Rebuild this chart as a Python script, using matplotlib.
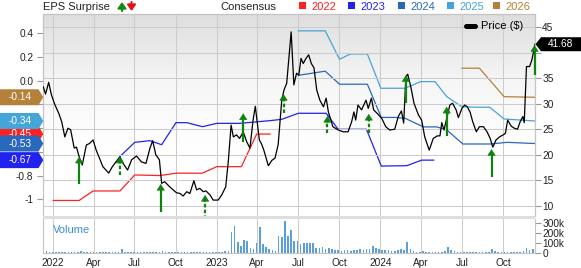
import matplotlib
matplotlib.use('Agg')
import matplotlib.pyplot as plt
import matplotlib.dates as mdates
import matplotlib.transforms as mtransforms
from matplotlib.patches import Polygon, Rectangle, FancyArrowPatch
from matplotlib.lines import Line2D
from matplotlib.colors import LinearSegmentedColormap
from matplotlib.ticker import FuncFormatter
import numpy as np
import pandas as pd

plt.rcParams['font.family'] = ['Liberation Sans', 'DejaVu Sans']

# price ($)
price_dates = [
    "2021-12-10", "2021-12-15", "2021-12-22", "2021-12-28",
    "2022-01-04", "2022-01-14", "2022-01-20", "2022-01-27", "2022-02-03", "2022-02-09", "2022-02-17", "2022-02-22",
    "2022-03-01", "2022-03-07", "2022-03-16", "2022-03-23", "2022-03-31", "2022-04-07", "2022-04-22",
    "2022-05-05", "2022-05-13", "2022-05-21", "2022-05-30", "2022-06-06", "2022-06-16", "2022-06-25",
    "2022-07-06", "2022-07-17", "2022-07-27", "2022-08-05", "2022-08-11", "2022-08-18", "2022-08-26", "2022-08-31",
    "2022-09-07", "2022-09-18", "2022-10-03", "2022-10-11", "2022-10-18", "2022-10-26",
    "2022-11-02", "2022-11-11", "2022-11-17", "2022-11-24", "2022-12-02", "2022-12-08", "2022-12-17", "2022-12-24",
    "2023-01-04", "2023-01-12", "2023-01-21", "2023-01-27", "2023-02-02", "2023-02-07", "2023-02-14", "2023-02-21",
    "2023-03-01", "2023-03-09", "2023-03-16", "2023-03-23", "2023-03-28", "2023-04-06", "2023-04-11", "2023-04-16",
    "2023-04-26", "2023-05-04", "2023-05-11", "2023-05-18", "2023-05-26", "2023-05-31",
    "2023-06-06", "2023-06-16", "2023-06-22", "2023-06-28",
    "2023-07-03", "2023-07-08", "2023-07-13", "2023-07-19", "2023-07-25", "2023-07-31",
    "2023-08-06", "2023-08-12", "2023-08-19", "2023-08-27", "2023-09-02", "2023-09-07", "2023-09-17", "2023-09-29",
    "2023-10-10", "2023-10-21", "2023-10-29", "2023-11-03", "2023-11-07", "2023-11-12", "2023-11-20", "2023-11-30",
    "2023-12-05", "2023-12-12", "2023-12-17", "2023-12-25",
    "2024-01-04", "2024-01-13", "2024-01-22", "2024-02-02", "2024-02-10", "2024-02-17", "2024-02-22", "2024-02-27",
    "2024-03-02", "2024-03-09", "2024-03-16", "2024-03-26", "2024-04-02", "2024-04-09", "2024-04-19", "2024-04-28",
    "2024-05-07", "2024-05-13", "2024-05-17", "2024-05-22", "2024-05-28", "2024-06-04", "2024-06-10", "2024-06-18",
    "2024-06-23", "2024-07-01", "2024-07-07", "2024-07-13", "2024-07-19", "2024-07-25",
    "2024-08-02", "2024-08-09", "2024-08-18", "2024-08-26", "2024-09-02", "2024-09-08", "2024-09-15", "2024-09-23",
    "2024-10-01", "2024-10-06", "2024-10-11", "2024-10-19", "2024-10-26",
    "2024-11-02", "2024-11-08", "2024-11-14", "2024-11-17", "2024-11-22", "2024-11-29", "2024-12-04", "2024-12-11",
]
price_vals = [
    33.3, 31.9, 34.2, 31.8,
    30.0, 28.0, 26.5, 23.5, 25.2, 24.9, 21.3, 21.5,
    19.3, 18.0, 21.9, 22.2, 22.9, 20.9, 17.65,
    16.4, 17.65, 18.6, 19.6, 18.3, 17.0, 19.0,
    19.75, 18.6, 18.3, 21.3, 22.75, 20.0, 19.0, 14.4,
    14.7, 13.7, 12.55, 12.4, 11.9, 12.75,
    12.4, 14.9, 13.1, 13.4, 12.75, 12.9, 12.1, 11.1,
    11.1, 12.1, 13.7, 19.0, 25.8, 23.5, 23.9, 23.2,
    24.5, 22.5, 21.3, 26.8, 29.5, 22.9, 22.1, 20.9,
    17.85, 18.9, 19.35, 22.0, 30.7, 32.7,
    34.0, 44.1, 33.7, 36.0,
    35.6, 38.9, 37.9, 38.9, 39.6, 37.9,
    37.0, 32.7, 30.7, 29.4, 31.1, 28.4, 25.5, 24.85,
    24.5, 24.5, 26.5, 28.4, 26.8, 29.75, 28.8, 30.7,
    29.1, 31.1, 28.8, 28.1,
    27.15, 25.5, 24.85, 25.0, 27.5, 28.6, 26.2, 35.3,
    35.8, 33.3, 30.1, 27.8, 26.8, 23.5, 20.9, 23.2,
    23.7, 23.7, 26.3, 24.85, 27.15, 29.75, 30.1, 28.8,
    27.3, 29.1, 29.75, 29.4, 28.4, 26.5,
    24.5, 25.5, 25.5, 24.5, 23.2, 21.5, 22.9, 23.5,
    23.9, 24.2, 26.8, 25.6, 25.2,
    25.0, 26.5, 27.5, 26.3, 37.3, 37.3, 38.6, 41.68,
]

# consensus EPS estimates per fiscal year
c2022_dates = ["2022-01-01", "2022-02-28", "2022-03-31", "2022-05-30", "2022-07-02", "2022-08-27",
               "2022-10-03", "2022-11-30", "2023-01-01", "2023-02-25", "2023-03-31", "2023-04-30"]
c2022_vals = [-1.01, -1.01, -0.93, -0.93, -0.795, -0.80, -0.78, -0.78, -0.725, -0.725, -0.45, -0.45]

c2023_dates = ["2022-05-30", "2022-07-02", "2022-08-05", "2022-08-31", "2022-10-02", "2022-10-26",
               "2022-11-30", "2023-01-01", "2023-02-21", "2023-04-30", "2023-05-26", "2023-07-02",
               "2023-09-02", "2023-09-29", "2023-12-01", "2024-01-03", "2024-02-29", "2024-04-02", "2024-04-29"]
c2023_vals = [-0.64, -0.52, -0.506, -0.54, -0.354, -0.354, -0.388, -0.36, -0.36, -0.337, -0.326, -0.275,
              -0.275, -0.41, -0.41, -0.72, -0.717, -0.67, -0.67]

c2024_dates = ["2023-07-02", "2023-08-31", "2023-10-02", "2023-12-03", "2024-01-03", "2024-02-02",
               "2024-02-25", "2024-04-06", "2024-05-06", "2024-05-28", "2024-07-03", "2024-09-02",
               "2024-10-10", "2024-12-11"]
c2024_vals = [0.045, 0.08, -0.03, -0.03, -0.31, -0.31, -0.317, -0.39, -0.39, -0.415, -0.534, -0.534,
              -0.52, -0.53]

c2025_dates = ["2023-07-02", "2023-08-31", "2023-10-02", "2023-10-26", "2023-12-03", "2024-01-02",
               "2024-02-25", "2024-03-31", "2024-05-02", "2024-05-28", "2024-07-01", "2024-08-04",
               "2024-09-01", "2024-10-03", "2024-12-11"]
c2025_vals = [0.42, 0.42, 0.18, 0.225, 0.225, -0.064, -0.064, -0.008, -0.008, -0.135, -0.22, -0.224,
              -0.224, -0.323, -0.34]

c2026_dates = ["2024-07-01", "2024-08-09", "2024-10-03", "2024-12-11"]
c2026_vals = [0.105, 0.105, -0.135, -0.14]

# EPS surprise arrows (price level of tail and head), solid = beat
surp_dates = ["2022-02-28", "2022-05-30", "2022-08-29", "2022-12-06", "2023-03-01", "2023-05-30",
              "2023-09-05", "2023-12-06", "2024-02-27", "2024-05-28", "2024-09-05", "2024-12-10"]
surp_base = [14.26, 16.0, 8.76, 7.4, 22.55, 28.25, 24.2, 24.3, 30.1, 23.7, 15.6, 35.6]
surp_tip = [19.6, 19.6, 14.26, 12.1, 28.1, 31.9, 27.6, 28.0, 35.6, 29.4, 21.1, 41.5]
surp_solid = [True, False, True, False, True, False, False, False, True, True, True, True]

# weekly volume, thousands of shares
vol_start = "2021-12-10"
vol_k = [30, 25, 12, 10, 10, 12, 10, 12, 10, 12, 10, 14, 22, 16, 18, 12, 10, 12, 10, 10,
         12, 10, 9, 12, 14, 40, 18, 14, 12, 10, 10, 12, 10, 9, 10, 12, 10, 14, 24, 14,
         10, 12, 10, 9, 10, 10, 9, 10, 10, 9, 10, 12, 14, 12, 10, 12, 14, 12, 20, 28,
         215, 275, 115, 73, 130, 120, 57, 45, 100, 265, 95, 60, 40, 30, 25, 175, 160, 320, 170, 235,
         120, 120, 97, 103, 100, 100, 105, 57, 50, 63, 40, 50, 40, 33, 30, 25, 30, 30, 25, 30,
         33, 40, 35, 40, 45, 73, 57, 40, 30, 35, 30, 28, 25, 35, 40, 30, 115, 40, 20, 18,
         18, 20, 18, 16, 18, 15, 16, 18, 22, 68, 35, 25, 18, 15, 16, 14, 15, 14, 16, 14,
         15, 14, 18, 48, 20, 15, 16, 14, 15, 14, 16, 18, 15, 20, 58, 30, 40]

years = ["2022", "2023", "2024", "2025", "2026"]
year_colors = ["#ff2020", "#2222ee", "#2a68bd", "#45a5d8", "#b5803a"]

W, H = 581, 268
fig = plt.figure(figsize=(W / 100, H / 100), dpi=100)


def fx(px):
    return px / W


def fy(py):
    return 1 - py / H


L, R, T, B = 43.3, 535.0, 14.0, 216.0
ax_e = fig.add_axes([fx(L), fy(B), fx(R) - fx(L), fy(T) - fy(B)])
ax_p = ax_e.twinx()
ax_v = fig.add_axes([fx(L), fy(253.3), fx(R) - fx(L), fy(218.6) - fy(253.3)])

grid_c = '#cccccc'
spine_c = '#c4c4c4'
green = '#0e840e'

# gray -> white background of the main panel
bg = LinearSegmentedColormap.from_list('bg', ['#dedede', '#f6f6f6', '#ffffff', '#ffffff'])
ax_e.imshow(np.linspace(0, 1, 200).reshape(-1, 1), cmap=bg, extent=(0, 1, 0, 1),
            transform=ax_e.transAxes, aspect='auto', zorder=-5)

for d, v, c in zip([c2022_dates, c2023_dates, c2024_dates, c2025_dates, c2026_dates],
                   [c2022_vals, c2023_vals, c2024_vals, c2025_vals, c2026_vals], year_colors):
    ax_e.plot(pd.to_datetime(d), v, color=c, lw=0.9, zorder=2)

ax_p.plot(pd.to_datetime(price_dates), price_vals, color='black', lw=0.9, zorder=3)

# surprise arrows: shaft (solid or dashed) plus a filled head
for d, b0, t0, s in zip(pd.to_datetime(surp_dates), surp_base, surp_tip, surp_solid):
    ax_p.plot([d, d], [b0, t0 - 0.9], color=green, lw=1.6, zorder=4, clip_on=False,
              solid_capstyle='butt', dash_capstyle='butt',
              linestyle='-' if s else (0, (1.6, 1.0)))
    ax_p.annotate('', xy=(d, t0), xytext=(d, t0 - 1.3), zorder=4, annotation_clip=False,
                  arrowprops=dict(arrowstyle='-|>,head_width=0.26,head_length=0.4',
                                  color=green, lw=0.5, shrinkA=0, shrinkB=0))

xmin, xmax = pd.Timestamp("2021-12-10"), pd.Timestamp("2024-12-11")
e_lo, e_hi = -1.141, 0.562
p_lo, p_hi = 7.98, 47.61
ax_e.set_xlim(xmin, xmax)
ax_e.set_ylim(e_lo, e_hi)
ax_p.set_ylim(p_lo, p_hi)

# -0.2 .. -0.6 sit under the value tags, so they carry no label
ax_e.set_yticks([0.4, 0.2, 0.0, -0.2, -0.4, -0.6, -0.8, -1.0])
ax_e.set_yticklabels(["0.4", "0.2", "0.0", "", "", "", "-0.8", "-1"])
ax_p.set_yticks(range(10, 50, 5))
ax_p.set_yticklabels(["10", "15", "20", "25", "30", "35", "", "45"])
ax_e.tick_params(axis='y', left=True, right=False, labelleft=True, labelright=False,
                 length=4, width=0.8, color='#999999', labelsize=7.3, labelcolor='#222222', pad=3.3)
ax_p.tick_params(axis='y', left=False, right=True, labelleft=False, labelright=True,
                 length=4, width=0.8, color='#999999', labelsize=7.3, labelcolor='#222222', pad=1.2)

month_loc = mdates.MonthLocator(bymonth=[1, 4, 7, 10])


def date_fmt(x, pos):
    d = mdates.num2date(x)
    return d.strftime('%Y') if d.month == 1 else d.strftime('%b')


for a in (ax_e, ax_p):
    a.xaxis.set_major_locator(month_loc)
    a.tick_params(axis='x', length=0, labelbottom=False)
ax_e.grid(axis='x', color=grid_c, lw=0.75)
ax_p.grid(axis='y', color=grid_c, lw=0.75, zorder=0)
ax_p.set_axisbelow(True)
for a in (ax_e, ax_p):
    for k, sp in a.spines.items():
        sp.set_color(spine_c)
        sp.set_linewidth(0.8)
    a.spines['bottom'].set_visible(False)

# volume panel
vol_dates = pd.date_range(vol_start, periods=len(vol_k), freq='7D')
ax_v.bar(vol_dates, np.array(vol_k) * 1000, width=3.6, color='#5a9fda', zorder=2)
ax_v.set_xlim(xmin, xmax)
ax_v.set_ylim(0, 348000)
ax_v.xaxis.set_major_locator(month_loc)
ax_v.xaxis.set_major_formatter(FuncFormatter(date_fmt))
ax_v.yaxis.tick_right()
ax_v.set_yticks([0, 100000, 200000, 300000])
ax_v.set_yticklabels(["0", "100k", "200k", "300k"])
ax_v.tick_params(axis='y', length=4, width=0.8, color='#999999', labelsize=7.3,
                 labelcolor='#222222', pad=1.2)
ax_v.tick_params(axis='x', length=0, labelsize=7.3, labelcolor='#222222', pad=3.5)
ax_v.grid(axis='x', color=grid_c, lw=0.75, zorder=0)
for k, sp in ax_v.spines.items():
    sp.set_color(spine_c)
    sp.set_linewidth(0.8)
ax_v.spines['top'].set_visible(False)
ax_v.text(0.02, 0.68, "Volume", transform=ax_v.transAxes, color='#3b8fd6', fontsize=8,
          ha='left', va='center')

# band between the panels
fig.add_artist(Rectangle((fx(L), fy(218.7)), fx(R) - fx(L), fy(216) - fy(218.7),
                         transform=fig.transFigure, color='#dedede', lw=0))

# price legend
ax_p.legend(handles=[Line2D([0], [0], color='black', lw=3.6, solid_capstyle='round')],
            labels=["Price ($)"], loc='upper right', bbox_to_anchor=(0.985, 0.985),
            frameon=False, fontsize=8, handlelength=0.8, handletextpad=0.5, borderaxespad=0)

# headers
fig.text(fx(43.3), fy(6.5), "EPS Surprise", fontsize=8, color='#222222', ha='left', va='center')
fig.add_artist(FancyArrowPatch((fx(122), fy(11)), (fx(122), fy(2)), transform=fig.transFigure,
                               arrowstyle='-|>,head_width=0.25,head_length=0.35', mutation_scale=10,
                               color='#138a13', lw=1.5, shrinkA=0, shrinkB=0))
fig.add_artist(FancyArrowPatch((fx(131.5), fy(2)), (fx(131.5), fy(11)), transform=fig.transFigure,
                               arrowstyle='-|>,head_width=0.25,head_length=0.35', mutation_scale=10,
                               color='#e8101a', lw=1.5, shrinkA=0, shrinkB=0))
fig.text(fx(220.7), fy(6.5), "Consensus", fontsize=8, color='#222222', ha='left', va='center')
sq_x = [299, 348, 398, 447, 493]
for x0, yr, c in zip(sq_x, years, year_colors):
    fig.add_artist(Rectangle((fx(x0), fy(8.5)), fx(6.6), fy(1.9) - fy(8.5),
                             transform=fig.transFigure, color=c, lw=0))
    fig.text(fx(x0 + 12), fy(6.5), yr, fontsize=8, color=c, ha='left', va='center')

# value tags, left (EPS) and right (price); later tags cover earlier ones
trans_e = mtransforms.blended_transform_factory(fig.transFigure, ax_e.transData)
he = 8 * (e_hi - e_lo) / (B - T)
tag_vals = [c2022_vals[-1], c2026_vals[-1], c2025_vals[-1], c2024_vals[-1], c2023_vals[-1]]
tag_cols = [year_colors[0], year_colors[4], year_colors[3], year_colors[2], year_colors[1]]
for i, (v, c) in enumerate(zip(tag_vals, tag_cols)):
    verts = [(0, v + he), (fx(38.5), v + he), (fx(43.3), v), (fx(38.5), v - he), (0, v - he)]
    fig.add_artist(Polygon(verts, closed=True, transform=trans_e, color=c, lw=0, zorder=5 + 2 * i))
    fig.text(fx(20), v, "%.2f" % v, transform=trans_e, color='white', fontsize=7.3,
             ha='center', va='center', zorder=6 + 2 * i)

trans_p = mtransforms.blended_transform_factory(fig.transFigure, ax_p.transData)
hp = 7 * (p_hi - p_lo) / (B - T)
last = price_vals[-1]
verts = [(fx(535.5), last), (fx(541), last + hp), (1, last + hp), (1, last - hp), (fx(541), last - hp)]
fig.add_artist(Polygon(verts, closed=True, transform=trans_p, color='black', lw=0, zorder=20))
fig.text(fx(560.5), last, "%.2f" % last, transform=trans_p, color='white', fontsize=7.3,
         ha='center', va='center', zorder=21)

fig.savefig('out.png', dpi=100)
